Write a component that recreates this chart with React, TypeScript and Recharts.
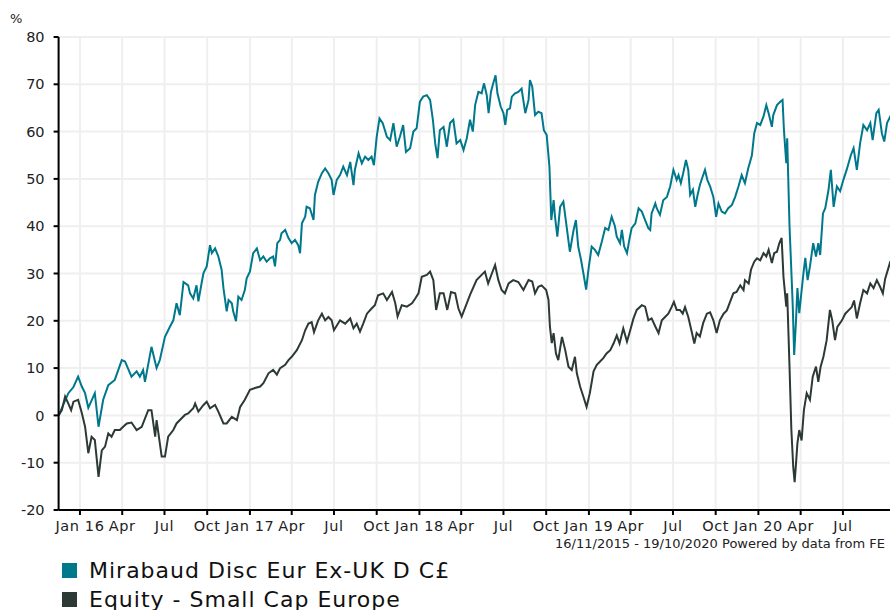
import { LineChart, Line, XAxis, YAxis, CartesianGrid } from 'recharts'

// days counted from the first date of the window, 16/11/2015
const startUtc = Date.UTC(2015, 10, 16)
const lastDay = 1799

const fundName = 'Mirabaud Disc Eur Ex-UK D C£'
const benchName = 'Equity - Small Cap Europe'
const fundColor = '#00788c'
const benchColor = '#2c3935'

const fundDay = [0, 21, 32, 42, 50, 57, 64, 78, 86, 96, 107, 121, 136, 143, 157, 168, 175, 182, 186, 200, 211, 218, 229, 240, 247, 254, 261, 269, 279, 283, 290, 297, 301, 308, 312, 319, 326, 330, 337, 344, 351, 355, 362, 366, 373, 376, 382, 387, 394, 401, 405, 412, 419, 427, 434, 441, 448, 455, 462, 466, 471, 477, 480, 488, 495, 502, 509, 516, 520, 524, 531, 534, 541, 549, 552, 559, 567, 574, 581, 588, 592, 599, 606, 613, 621, 628, 635, 638, 646, 653, 660, 667, 674, 679, 685, 691, 698, 707, 714, 721, 728, 735, 742, 748, 757, 764, 771, 778, 785, 793, 800, 806, 811, 816, 821, 829, 836, 843, 850, 857, 865, 872, 879, 886, 892, 897, 904, 911, 916, 922, 926, 931, 936, 941, 945, 952, 958, 962, 966, 972, 976, 983, 990, 997, 1005, 1012, 1015, 1020, 1026, 1033, 1040, 1045, 1051, 1057, 1061, 1066, 1069, 1074, 1080, 1087, 1094, 1101, 1109, 1114, 1119, 1125, 1130, 1136, 1141, 1148, 1155, 1162, 1170, 1177, 1184, 1191, 1198, 1202, 1209, 1213, 1218, 1224, 1229, 1234, 1242, 1249, 1256, 1263, 1270, 1274, 1277, 1285, 1288, 1295, 1302, 1310, 1317, 1324, 1331, 1335, 1340, 1345, 1351, 1356, 1360, 1366, 1371, 1376, 1381, 1387, 1392, 1397, 1403, 1410, 1416, 1421, 1428, 1435, 1442, 1450, 1457, 1464, 1471, 1478, 1485, 1493, 1498, 1504, 1511, 1518, 1524, 1529, 1536, 1539, 1547, 1554, 1559, 1562, 1567, 1569, 1574, 1579, 1581, 1584, 1588, 1591, 1595, 1599, 1604, 1608, 1613, 1618, 1625, 1631, 1636, 1640, 1646, 1651, 1658, 1663, 1669, 1676, 1683, 1690, 1697, 1706, 1712, 1719, 1726, 1733, 1741, 1748, 1753, 1761, 1766, 1773, 1778, 1784, 1791, 1799]
const fundPct = [0, 4.7, 6, 8.2, 6.1, 4.7, 1.6, 4.7, -2.4, 3.3, 6.4, 7.5, 11.7, 11.4, 8.2, 9.3, 8.2, 9.6, 7.1, 14.5, 10, 11.7, 16.6, 18.8, 20.1, 23.7, 21.2, 28.2, 27.5, 25.8, 24.7, 27.5, 24.1, 28, 30.1, 31.5, 36, 34.3, 35.3, 33.6, 30.8, 26.9, 22, 24.4, 23.7, 22, 19.9, 25.1, 24.4, 26.5, 29, 30.4, 34.3, 35.3, 32.8, 33.6, 32.5, 33.2, 33.6, 31.5, 36.4, 37.1, 38.5, 39.2, 37.5, 36.4, 37.1, 36, 34.3, 40.6, 42, 44.1, 43.8, 41.3, 46.6, 49.4, 51.2, 52.2, 51.2, 49.8, 46.6, 49.8, 50.8, 52.6, 50.8, 53.6, 48.7, 51.9, 55.4, 53.3, 54.7, 54, 54.7, 52.9, 58.9, 62.8, 61.8, 58.9, 58.2, 61.8, 56.8, 58.9, 61.4, 55.7, 56.5, 60, 60.7, 66.3, 67.4, 67.7, 66.7, 62.5, 57.5, 54.4, 60.3, 61, 56.8, 61.8, 62.5, 57.5, 58.2, 56.1, 58.6, 62.5, 60, 65.6, 68.4, 68.1, 70.2, 67.7, 63.9, 68.4, 70.2, 71.9, 68.1, 65.3, 63.9, 61.4, 64.6, 64.9, 67.4, 68.1, 68.4, 69.1, 63.9, 66.7, 70.9, 69.5, 63.5, 64.2, 63.9, 60.3, 59.3, 52.6, 41.3, 45.5, 42, 37.8, 44.1, 45.2, 39.9, 34.6, 39.2, 41.3, 35.7, 32.9, 30.1, 26.6, 30.8, 35.7, 35, 33.9, 36.8, 39.6, 39.2, 42, 40, 37.8, 36.4, 39.2, 35.7, 34.3, 37.1, 39.6, 40.6, 43.8, 43.1, 41.3, 39.6, 39.2, 42.7, 44.8, 43.8, 42.4, 45.5, 46.2, 48.4, 51.9, 49.8, 50.8, 49.1, 51.2, 54, 51.9, 46.6, 47.7, 44.1, 46.6, 48.7, 50.5, 51.9, 49.8, 48.4, 46.2, 42, 44.8, 43.1, 42.7, 43.8, 44.5, 46.2, 48.4, 50.8, 49.1, 52.2, 55, 59.6, 61.8, 61.4, 63.2, 65.6, 63.9, 61, 63.5, 65.6, 66.3, 66.7, 60.3, 53.3, 58.6, 40, 28, 23, 12.8, 20.1, 26.9, 21.6, 25.4, 30.1, 33.3, 28.6, 31.5, 36.4, 33.6, 36.4, 33.9, 42.7, 43.8, 47.7, 51.9, 44.1, 48.4, 47.4, 49.8, 51.9, 55, 56.5, 51.9, 57.5, 61.4, 60.3, 61.8, 58.2, 63.9, 64.6, 59.6, 57.9, 61.8, 63.2, 62]

const benchDay = [0, 7, 14, 21, 27, 32, 42, 50, 57, 64, 71, 78, 86, 93, 100, 107, 114, 121, 132, 139, 147, 157, 168, 179, 193, 200, 208, 211, 222, 229, 236, 247, 254, 265, 272, 279, 290, 294, 301, 312, 319, 326, 337, 344, 355, 362, 373, 384, 391, 401, 412, 423, 434, 441, 452, 462, 470, 477, 488, 495, 502, 513, 524, 531, 538, 545, 550, 559, 567, 574, 581, 588, 593, 606, 617, 628, 635, 642, 649, 656, 664, 674, 681, 688, 699, 707, 718, 725, 730, 739, 750, 761, 768, 775, 782, 793, 800, 807, 813, 821, 829, 837, 845, 854, 861, 868, 879, 886, 900, 911, 918, 925, 933, 940, 947, 954, 961, 969, 979, 990, 1001, 1012, 1020, 1026, 1033, 1040, 1050, 1055, 1058, 1062, 1066, 1071, 1076, 1084, 1091, 1098, 1105, 1112, 1116, 1123, 1130, 1137, 1144, 1152, 1159, 1166, 1173, 1180, 1188, 1195, 1202, 1208, 1216, 1224, 1231, 1238, 1245, 1256, 1263, 1270, 1277, 1285, 1292, 1299, 1306, 1313, 1320, 1325, 1331, 1338, 1344, 1349, 1356, 1364, 1369, 1374, 1381, 1388, 1396, 1403, 1410, 1417, 1424, 1432, 1439, 1446, 1453, 1460, 1468, 1475, 1478, 1486, 1491, 1498, 1504, 1511, 1518, 1524, 1529, 1536, 1541, 1547, 1552, 1557, 1561, 1567, 1569, 1574, 1578, 1582, 1585, 1588, 1591, 1595, 1600, 1605, 1611, 1618, 1624, 1631, 1636, 1641, 1647, 1654, 1661, 1666, 1672, 1677, 1687, 1694, 1701, 1708, 1713, 1719, 1726, 1733, 1741, 1748, 1755, 1762, 1769, 1775, 1780, 1788, 1791, 1799]
const benchPct = [0, 1.1, 4, 2.5, 1.1, 2.9, 3.3, 0.5, -2.4, -8, -4.5, -5.2, -13, -7.4, -6.6, -3.8, -4.5, -3.1, -3.1, -2.4, -1.7, -1.5, -3.1, -2.4, 1.1, 1.1, -4.5, -1, -8.7, -8.7, -4.5, -3.1, -1.7, -0.6, 0.1, 0.4, 1.5, 2.5, 0.8, 2.2, 2.9, 1.5, 2.2, 0.8, -1.7, -1.7, -0.3, -1, 1.8, 3.3, 5.4, 5.8, 6.1, 6.8, 8.9, 9.6, 8.6, 10, 10.7, 11.7, 12.4, 13.8, 15.9, 18, 19.4, 19.7, 17.6, 20.1, 21.5, 20.1, 20.8, 20.1, 18, 20.1, 19.4, 20.5, 18.4, 19.4, 17.7, 19.4, 21.5, 22.6, 23.3, 25.4, 25.8, 24.4, 26.1, 23.7, 20.9, 23.3, 23, 23.7, 24.7, 25.8, 29.3, 29.7, 30.4, 28.6, 22.3, 25.8, 25.8, 22.3, 26.1, 25.8, 22.6, 20.9, 23.7, 25.5, 28.6, 29.7, 30.4, 27.9, 30, 31.8, 28.6, 26.5, 25.8, 27.9, 28.6, 28.2, 26.5, 28.6, 28.3, 25.8, 27.2, 27.5, 26.5, 24.4, 18.8, 15.3, 17.4, 13.1, 11.7, 16.6, 13.8, 10.3, 9.6, 12.4, 8.9, 6.1, 4, 1.8, 4.7, 9.3, 10.7, 11.4, 12.1, 13.1, 13.8, 15.2, 16.9, 15.2, 18.4, 15.6, 18, 20.5, 22.3, 23.3, 23, 20.1, 20.5, 18.8, 17.4, 20.1, 20.8, 21.5, 22.9, 24, 22.3, 22.3, 21.5, 22.9, 20.8, 17.4, 15.2, 17.4, 16.7, 19.5, 21.5, 21.8, 20.1, 17.4, 20.1, 21.5, 22.2, 24, 25.8, 26.1, 27.5, 26.5, 28.6, 27.9, 30.8, 32.5, 33.2, 32.8, 34.3, 33.6, 35, 32.2, 34.3, 34.6, 36.4, 37.5, 29.3, 23, 25.8, 10.3, -3.1, -10.9, -14.1, -10.2, -5.9, -3.1, -5.3, 1.1, 4.7, 3.3, 8.2, 10.3, 7.1, 10.3, 12.4, 15.9, 22.3, 20.1, 15.9, 18.7, 20.1, 21.5, 22.2, 22.9, 24.3, 20.5, 23.7, 26.5, 25.8, 27.9, 26.9, 28.6, 27.2, 25.8, 28.9, 31.5, 32.5, 33]

const yTicks = [-20, -10, 0, 10, 20, 30, 40, 50, 60, 70, 80]
const monthNames = ['Jan', 'Apr', 'Jul', 'Oct']

// quarter starts from Jan 2016 to Jul 2020
const xTicks: number[] = []
for (let y = 2016; y <= 2020; y++) {
    for (let q = 0; q < 4; q++) {
        if (y === 2020 && q > 2) break
        xTicks.push((Date.UTC(y, q * 3, 1) - startUtc) / 86400000)
    }
}

const formatTick = (d: number) => {
    const dt = new Date(startUtc + d * 86400000)
    const m = dt.getUTCMonth()
    if (m === 0) return `Jan ${String(dt.getUTCFullYear()).slice(2)}`
    return monthNames[m / 3]
}

const rowMap = new Map<number, any>()
fundDay.forEach((d, i) => {
    rowMap.set(d, { ...(rowMap.get(d) || { d }), fund: fundPct[i] })
})
benchDay.forEach((d, i) => {
    rowMap.set(d, { ...(rowMap.get(d) || { d }), bench: benchPct[i] })
})
const data = Array.from(rowMap.values()).sort((a, b) => a.d - b.d)

const font = '"DejaVu Sans", Verdana, sans-serif'

export default function App() {
    return (
        <div
            style={{
                position: 'fixed',
                left: 0,
                top: 0,
                width: 890,
                height: 610,
                overflow: 'hidden',
                background: '#fff',
                fontFamily: font,
            }}
        >
            <div style={{ position: 'absolute', left: 10, top: 11, fontSize: 13, color: '#222' }}>%</div>
            <LineChart
                width={900}
                height={610}
                data={data}
                margin={{ top: 37, right: 6, bottom: 70, left: 0 }}
                style={{ fontFamily: font }}
            >
                <CartesianGrid stroke="#efefef" strokeWidth={2} />
                <XAxis
                    dataKey="d"
                    type="number"
                    domain={[0, lastDay]}
                    ticks={xTicks}
                    tickFormatter={formatTick}
                    interval={0}
                    height={30}
                    tickSize={5}
                    tickMargin={6}
                    axisLine={{ stroke: '#000', strokeWidth: 2 }}
                    tickLine={{ stroke: '#000', strokeWidth: 2 }}
                    tick={{ fill: '#222', fontSize: 14.5, letterSpacing: 0.6 }}
                />
                <YAxis
                    type="number"
                    domain={[-20, 80]}
                    ticks={yTicks}
                    interval={0}
                    width={58.6}
                    tickSize={5}
                    tickMargin={9}
                    axisLine={{ stroke: '#000', strokeWidth: 2 }}
                    tickLine={{ stroke: '#000', strokeWidth: 2 }}
                    tick={{ fill: '#222', fontSize: 14.5 }}
                />
                <Line
                    dataKey="fund"
                    type="linear"
                    stroke={fundColor}
                    strokeWidth={2}
                    dot={false}
                    connectNulls
                    isAnimationActive={false}
                />
                <Line
                    dataKey="bench"
                    type="linear"
                    stroke={benchColor}
                    strokeWidth={2}
                    dot={false}
                    connectNulls
                    isAnimationActive={false}
                />
            </LineChart>
            <div style={{ position: 'absolute', right: 5, top: 536, fontSize: 13, color: '#222' }}>
                16/11/2015 - 19/10/2020 Powered by data from FE
            </div>
            <div
                style={{
                    position: 'absolute',
                    left: 62,
                    top: 556,
                    fontSize: 22,
                    letterSpacing: 1,
                    color: '#111',
                    lineHeight: '29px',
                }}
            >
                {[
                    { name: fundName, color: fundColor },
                    { name: benchName, color: benchColor },
                ].map((s) => (
                    <div key={s.name} style={{ display: 'flex', alignItems: 'center' }}>
                        <span style={{ width: 15, height: 15, background: s.color, marginRight: 12, display: 'inline-block' }} />
                        {s.name}
                    </div>
                ))}
            </div>
        </div>
    )
}
